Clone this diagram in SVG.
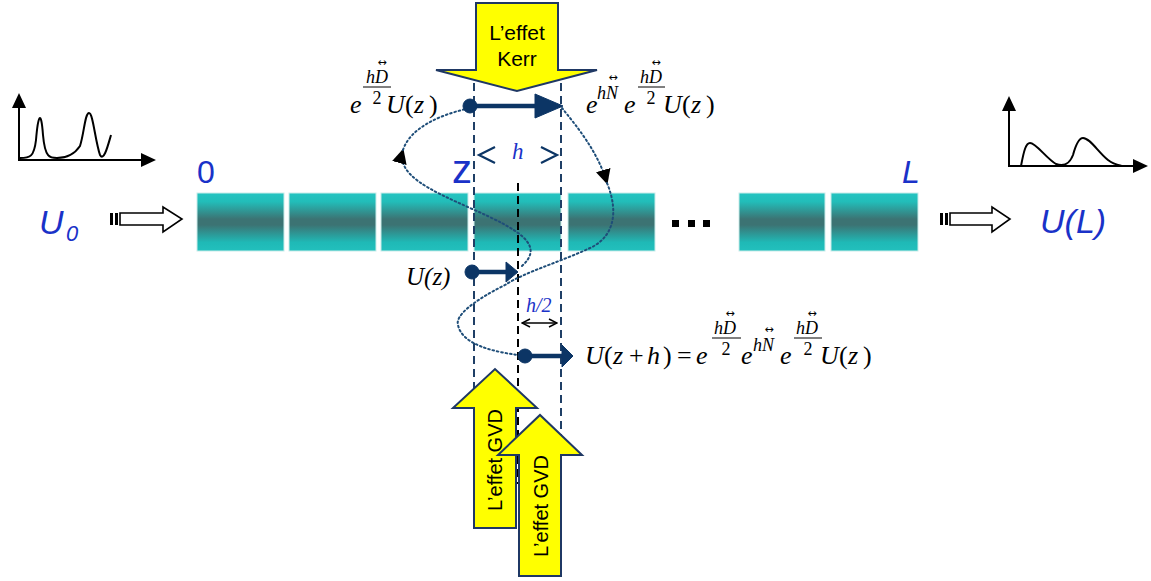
<svg xmlns="http://www.w3.org/2000/svg" width="1151" height="581" viewBox="0 0 1151 581">
<defs>
<linearGradient id="fib" x1="0" y1="0" x2="0" y2="1">
<stop offset="0" stop-color="#25c4c1"/>
<stop offset="0.15" stop-color="#22bdb9"/>
<stop offset="0.45" stop-color="#3c7373"/>
<stop offset="0.55" stop-color="#3c7373"/>
<stop offset="0.85" stop-color="#1fb9b6"/>
<stop offset="1" stop-color="#22c0bd"/>
</linearGradient>
<marker id="tri" viewBox="0 0 10 10" refX="9" refY="5" markerWidth="15" markerHeight="15" markerUnits="userSpaceOnUse" orient="auto">
<path d="M0,0 L10,5 L0,10 Z" fill="#000"/>
</marker>
<marker id="chev" viewBox="0 0 10 10" refX="9" refY="5" markerWidth="10" markerHeight="10" markerUnits="userSpaceOnUse" orient="auto-start-reverse">
<path d="M1,1 L9,5 L1,9" fill="none" stroke="#000" stroke-width="1.5"/>
</marker>
</defs>
<style>
.blk{fill:url(#fib);stroke:#c9ecea;stroke-width:1}
.bt{font-family:"Liberation Sans",Arial,sans-serif;font-style:italic;fill:#1a32c8}
.m{font-family:"Liberation Serif","Times New Roman",serif;fill:#000}
.i{font-style:italic}
.ar{font-family:"DejaVu Sans",sans-serif;fill:#000;font-size:11px}
.sup{font-size:18px}
.big{font-size:26px}
.dash{stroke:#1f3f66;stroke-width:2;stroke-dasharray:8,5;fill:none}
.kdash{stroke:#000;stroke-width:2;stroke-dasharray:8,5;fill:none}
.dot{stroke:#1f4e79;stroke-width:2;stroke-dasharray:1.6,2.8;fill:none;stroke-linecap:round}
.yel{fill:#ffff00;stroke:#1f3864;stroke-width:2;stroke-linejoin:miter}
.yt{font-family:"Liberation Sans",Arial,sans-serif;font-size:21px;fill:#000}
.gt{font-family:"Liberation Sans",Arial,sans-serif;font-size:20px;fill:#000}
.nav{stroke:#0c3565;fill:#0c3565}
.ax{stroke:#000;stroke-width:2;fill:none}
.hol{fill:#fff;stroke:#000;stroke-width:1.6}
.bar{stroke:#000;stroke-width:1}
</style>

<g id="plot-in">
<line class="ax" x1="19" y1="161" x2="19" y2="106"/>
<path d="M12,108 L19,93 L26,108 Z" fill="#000"/>
<line class="ax" x1="18" y1="160" x2="142" y2="160"/>
<path d="M141,153 L156,160 L141,167 Z" fill="#000"/>
<path class="ax" d="M20,158 C30,158 34,157 36,140 C38,116 41,108 43,135 C45,158 50,158 57,158 C66,158 74,155 80,146 C84,134 85,113 89,113 C93,113 95,140 100,155 C104,162 108,145 111,135"/>
</g>

<g id="plot-out">
<line class="ax" x1="1009" y1="167" x2="1009" y2="110"/>
<path d="M1002,111 L1009,96 L1016,111 Z" fill="#000"/>
<line class="ax" x1="1008" y1="166" x2="1134" y2="166"/>
<path d="M1133,159 L1148,166 L1133,173 Z" fill="#000"/>
<path class="ax" d="M1021,166 C1024,150 1026,143 1030,143 C1036,143 1046,158 1056,164 C1064,167 1070,163 1073,155 C1076,144 1079,138 1083,138 C1090,138 1098,152 1108,160 C1113,164 1118,165 1122,166"/>
</g>

<g id="input">
<text class="bt" x="39" y="234" font-size="34">U</text>
<text class="bt" x="66" y="241" font-size="22">0</text>
<rect x="110" y="213" width="3" height="12" fill="#000"/>
<rect x="115" y="213" width="3" height="12" fill="#000"/>
<path class="hol" d="M120,213 L163,213 L163,207 L182,219 L163,232 L163,225 L120,225 Z"/>
</g>

<g id="output">
<rect x="940" y="213" width="3" height="12" fill="#000"/>
<rect x="945" y="213" width="3" height="12" fill="#000"/>
<path class="hol" d="M950,213 L992,213 L992,207 L1010,219 L992,232 L992,225 L950,225 Z"/>
<text class="bt" x="1040" y="233" font-size="34">U(L)</text>
</g>

<g id="fiber">
<rect class="blk" x="197" y="193" width="87" height="58"/>
<rect class="blk" x="289" y="193" width="87" height="58"/>
<rect class="blk" x="381" y="193" width="87" height="58"/>
<rect class="blk" x="474" y="193" width="87" height="58"/>
<rect class="blk" x="568" y="193" width="87" height="58"/>
<rect class="blk" x="739" y="193" width="86" height="58"/>
<rect class="blk" x="831" y="193" width="87" height="58"/>
<rect x="672" y="220" width="7" height="7" fill="#000"/>
<rect x="688" y="220" width="7" height="7" fill="#000"/>
<rect x="703" y="220" width="7" height="7" fill="#000"/>
<text class="bt" x="197" y="183" font-size="32" style="font-style:normal">0</text>
<text class="bt" x="452" y="183" font-size="40" style="font-style:normal">z</text>
<text class="bt" x="902" y="183" font-size="32">L</text>
</g>

<g id="connectors">
<line class="dash" x1="474" y1="70" x2="474" y2="500"/>
<line class="dash" x1="561" y1="70" x2="561" y2="500"/>
<line class="kdash" x1="518" y1="183" x2="518" y2="484"/>
<path class="dot" d="M522,266 C545,245 520,230 470,208 C430,190 396,175 403,150" marker-end="url(#tri)"/>
<path class="dot" d="M403,150 C410,128 440,115 466,109"/>
<path class="dot" d="M562,108 C578,128 598,152 607,183" marker-end="url(#tri)"/>
<path class="dot" d="M607,183 C620,215 612,238 590,248 C560,262 525,272 505,285 C475,300 455,315 458,325 C462,345 495,352 518,355"/>
<line x1="522" y1="323" x2="557" y2="323" stroke="#000" stroke-width="1.5" marker-start="url(#chev)" marker-end="url(#chev)"/>
<path d="M495,147 L479,155 L495,163 M541,147 L557,155 L541,163" fill="none" stroke="#0c3565" stroke-width="2.2"/>
<line class="nav" x1="470" y1="106" x2="540" y2="106" stroke-width="4.5"/>
<path class="nav" d="M535,94 L563,106 L535,118 Z" stroke="none"/>
<circle class="nav" cx="470" cy="106" r="7"/>
<line class="nav" x1="472" y1="272" x2="510" y2="272" stroke-width="4.5"/>
<path class="nav" d="M506,262 L518,272 L506,282 Z" stroke="none"/>
<circle class="nav" cx="472" cy="272" r="7"/>
<line class="nav" x1="525" y1="356" x2="566" y2="356" stroke-width="4.5"/>
<path class="nav" d="M562,345 L573,356 L562,367 Z" stroke="none"/>
<circle class="nav" cx="525" cy="356" r="7"/>
</g>

<g id="kerr">
<path class="yel" d="M476,3 L558,3 L558,70 L597,70 L517,91 L436,70 L476,70 Z"/>
<text class="yt" x="517" y="40" text-anchor="middle">L’effet</text>
<text class="yt" x="517" y="66" text-anchor="middle">Kerr</text>
</g>

<g id="gvd1">
<path class="yel" d="M474,528 L474,408 L453,408 L495,369 L537,408 L516,408 L516,528 Z"/>
<text class="gt" transform="translate(502,460) rotate(-90)" text-anchor="middle">L’effet GVD</text>
</g>
<g id="gvd2">
<path class="yel" d="M519,576 L519,455 L498,455 L540,415 L582,455 L561,455 L561,576 Z"/>
<text class="gt" transform="translate(548,506) rotate(-90)" text-anchor="middle">L’effet GVD</text>
</g>

<g id="labels">
<text class="m i" x="512" y="159" font-size="23" style="fill:#1a32c8">h</text>
<text class="m i" x="526" y="312" font-size="20" style="fill:#1a32c8">h/2</text>
<text class="m i" x="406" y="285" font-size="25">U(z)</text>
</g>

<g id="f-top-left">
<text class="m i big" x="350" y="113">e</text>
<text class="m i sup" x="366" y="83">h</text>
<text class="m i sup" x="375" y="83">D</text>
<text class="ar" x="382" y="66" text-anchor="middle">↔</text>
<line class="bar" x1="363" y1="87" x2="391" y2="87"/>
<text class="m sup" x="377" y="104" text-anchor="middle">2</text>
<text class="m big" y="113"><tspan class="i" x="386">U</tspan><tspan x="405">(</tspan><tspan class="i" x="414">z</tspan><tspan x="429">)</tspan></text>
</g>

<g id="f-top-right">
<text class="m i big" x="586" y="113">e</text>
<text class="m i sup" x="597" y="99">h</text>
<text class="m i sup" x="606" y="99">N</text>
<text class="ar" x="613" y="81" text-anchor="middle">↔</text>
<text class="m i big" x="624" y="113">e</text>
<text class="m i sup" x="640" y="83">h</text>
<text class="m i sup" x="649" y="83">D</text>
<text class="ar" x="656" y="66" text-anchor="middle">↔</text>
<line class="bar" x1="638" y1="87" x2="665" y2="87"/>
<text class="m sup" x="651" y="104" text-anchor="middle">2</text>
<text class="m big" y="113"><tspan class="i" x="663">U</tspan><tspan x="682">(</tspan><tspan class="i" x="691">z</tspan><tspan x="706">)</tspan></text>
</g>

<g id="f-bottom">
<text class="m big" y="364"><tspan class="i" x="585">U</tspan><tspan x="604">(</tspan><tspan class="i" x="613">z</tspan><tspan x="629">+</tspan><tspan class="i" x="647">h</tspan><tspan x="663">)</tspan><tspan x="677">=</tspan><tspan class="i" x="696">e</tspan></text>
<text class="m i sup" x="714" y="334">h</text>
<text class="m i sup" x="723" y="334">D</text>
<text class="ar" x="730" y="317" text-anchor="middle">↔</text>
<line class="bar" x1="712" y1="338" x2="741" y2="338"/>
<text class="m sup" x="726" y="355" text-anchor="middle">2</text>
<text class="m i big" x="741" y="364">e</text>
<text class="m i sup" x="753" y="351">h</text>
<text class="m i sup" x="762" y="351">N</text>
<text class="ar" x="769" y="333" text-anchor="middle">↔</text>
<text class="m i big" x="780" y="364">e</text>
<text class="m i sup" x="796" y="334">h</text>
<text class="m i sup" x="805" y="334">D</text>
<text class="ar" x="812" y="317" text-anchor="middle">↔</text>
<line class="bar" x1="794" y1="338" x2="822" y2="338"/>
<text class="m sup" x="808" y="355" text-anchor="middle">2</text>
<text class="m big" y="364"><tspan class="i" x="820">U</tspan><tspan x="839">(</tspan><tspan class="i" x="848">z</tspan><tspan x="863">)</tspan></text>
</g>
</svg>
